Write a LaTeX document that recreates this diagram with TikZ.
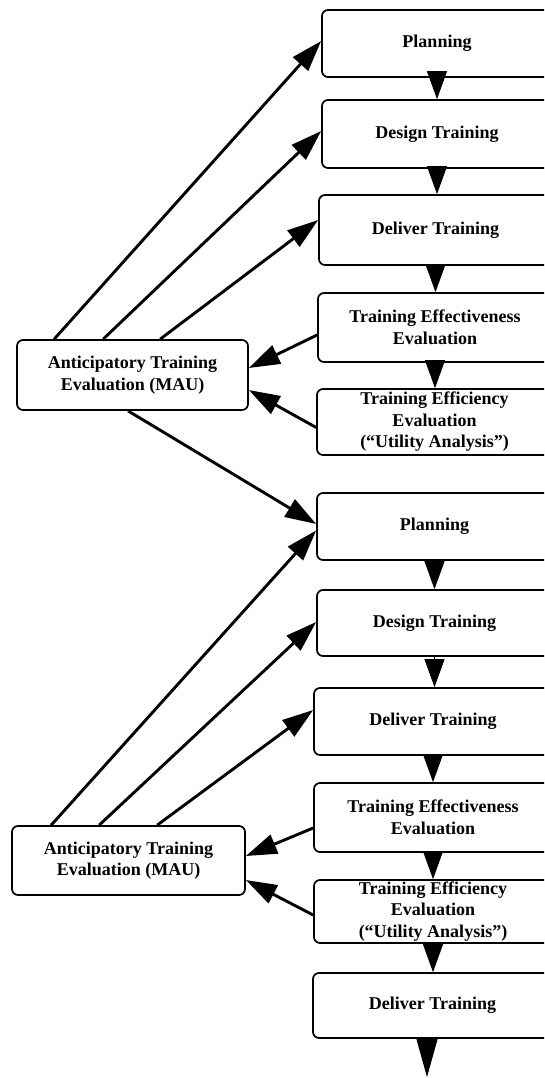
\documentclass[tikz,border=0pt]{standalone}
\usepackage{fontspec}
\setmainfont{Liberation Serif}
\usetikzlibrary{arrows.meta}
\begin{document}
\begin{tikzpicture}[x=1pt,y=-1pt,
  box/.style={draw,line width=1.7pt,rounded corners=6pt,inner sep=0pt,align=center,
    font=\bfseries\fontsize{18}{21.5}\selectfont},
  vtri/.style={line width=1pt,-{Triangle[length=28pt,width=20pt]}},
  vend/.style={line width=1pt,-{Triangle[length=38pt,width=21pt]}},
  diag/.style={line width=2.9pt,-{Triangle[length=31pt,width=20pt]}},
]
\path[use as bounding box, clip] (0,0) rectangle (544,1078);

% upper stage
\node[box,minimum width=230pt,minimum height=67pt] (p1) at (437,43.5) {Planning};
\node[box,minimum width=230pt,minimum height=68pt] (d1) at (437,134) {Design Training};
\node[box,minimum width=233pt,minimum height=70pt] (del1) at (435.5,230) {Deliver Training};
\node[box,minimum width=234pt,minimum height=69pt] (e1) at (435,327.5) {Training Effectiveness\\Evaluation};
\node[box,minimum width=235pt,minimum height=66pt] (f1) at (434.5,422) {Training Efficiency\\Evaluation\\(“Utility Analysis”)};
\node[box,minimum width=231pt,minimum height=70pt] (m1) at (132.5,375) {Anticipatory Training\\Evaluation (MAU)};

% lower stage
\node[box,minimum width=235pt,minimum height=67pt] (p2) at (434.5,526.5) {Planning};
\node[box,minimum width=235pt,minimum height=66pt] (d2) at (434.5,623) {Design Training};
\node[box,minimum width=238pt,minimum height=67pt] (del2) at (433,721.5) {Deliver Training};
\node[box,minimum width=238pt,minimum height=69pt] (e2) at (433,817.5) {Training Effectiveness\\Evaluation};
\node[box,minimum width=238pt,minimum height=63pt] (f2) at (433,911.5) {Training Efficiency\\Evaluation\\(“Utility Analysis”)};
\node[box,minimum width=239pt,minimum height=65pt] (del3) at (432.5,1005.5) {Deliver Training};
\node[box,minimum width=233pt,minimum height=69pt] (m2) at (128.5,860.5) {Anticipatory Training\\Evaluation (MAU)};
\coordinate (end) at (427,1077);

% vertical flow
\draw[vtri] (p1.south) -- (p1.south |- d1.north);
\draw[vtri] (d1.south) -- (d1.south |- del1.north);
\draw[vtri] (del1.south) -- (del1.south |- e1.north);
\draw[vtri] (e1.south) -- (e1.south |- f1.north);
\draw[vtri] (p2.south) -- (p2.south |- d2.north);
\draw[vtri] (d2.south) -- (d2.south |- del2.north);
\draw[vtri] (del2.south) -- (del2.south |- e2.north);
\draw[vtri] (e2.south) -- (e2.south |- f2.north);
\draw[vtri] (f2.south) -- (f2.south |- del3.north);
\draw[vend] (del3.south -| end) -- (end);

% upper MAU links
\draw[diag] ([xshift=38pt]m1.north west) -- ([yshift=2.5pt]p1.west);
\draw[diag] ([xshift=87pt]m1.north west) -- ([yshift=3pt]d1.west);
\draw[diag] ([xshift=144pt]m1.north west) -- ([yshift=10pt]del1.west);
\draw[diag] ([yshift=-7.5pt]e1.west) -- ([yshift=7pt]m1.east);
\draw[diag] ([yshift=-5.5pt]f1.west) -- ([yshift=-15pt]m1.east);
\draw[diag] ([xshift=-4.5pt]m1.south) -- ([yshift=2.5pt]p2.west);

% lower MAU links
\draw[diag] ([xshift=40pt]m2.north west) -- ([yshift=-4pt]p2.west);
\draw[diag] ([xshift=88pt]m2.north west) -- ([yshift=1pt]d2.west);
\draw[diag] ([xshift=146pt]m2.north west) -- ([yshift=11.5pt]del2.west);
\draw[diag] ([yshift=-10.5pt]e2.west) -- ([yshift=4.5pt]m2.east);
\draw[diag] ([yshift=-3.5pt]f2.west) -- ([yshift=-19.5pt]m2.east);
\end{tikzpicture}
\end{document}
